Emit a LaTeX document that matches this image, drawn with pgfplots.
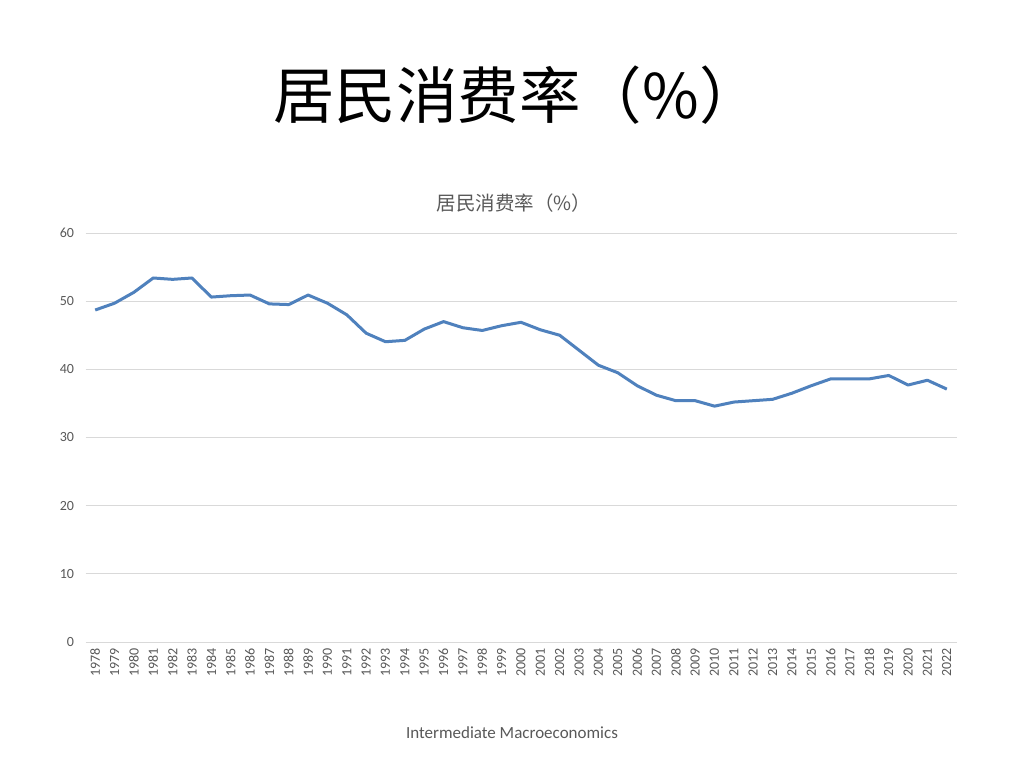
\documentclass[border=0pt]{standalone}
\usepackage{fontspec}
\setmainfont{Carlito}
\newfontfamily\cjk{Noto Sans CJK SC}
\usepackage{pgfplots}
\pgfplotsset{compat=1.18}
\definecolor{linec}{HTML}{4F81BD}
\definecolor{gridc}{HTML}{D9D9D9}
\definecolor{txtc}{HTML}{595959}
\begin{document}
\begin{tikzpicture}[x=1pt,y=1pt]
\path[fill=white] (0,0) rectangle (1024,768);
\node[font=\cjk\fontsize{61.5}{68}\selectfont] at (517,673) {居民消费率（\%）};
\node[font=\cjk\fontsize{19.5}{22}\selectfont, text=txtc] at (514,565) {居民消费率（\%）};
\node[font=\fontsize{17}{20}\selectfont, text=txtc] at (512,35) {Intermediate Macroeconomics};
\begin{axis}[
  at={(85.5pt,126pt)}, anchor=origin,
  scale only axis, width=871pt, height=409pt,
  xmin=1977.5, xmax=2022.5, ymin=0, ymax=60,
  xtick={1978,...,2022}, ytick={0,10,...,60},
  xticklabel style={rotate=90, anchor=east, font=\fontsize{14}{16}\selectfont, text=txtc, /pgf/number format/1000 sep={}},
  yticklabel style={font=\fontsize{14}{16}\selectfont, text=txtc},
  /pgf/number format/assume math mode=true,
  /pgf/number format/1000 sep={},
  major tick length=0pt,
  axis line style={draw=none},
  ymajorgrids, grid style={gridc, line width=0.9pt},
  xticklabel shift=3pt, yticklabel shift=8pt,
  clip=false,
]
\addplot[linec, line width=3pt, line join=round] coordinates {
(1978,48.7)(1979,49.7)(1980,51.3)(1981,53.4)(1982,53.2)(1983,53.4)
(1984,50.6)(1985,50.8)(1986,50.9)(1987,49.6)(1988,49.5)(1989,50.9)
(1990,49.7)(1991,48.0)(1992,45.3)(1993,44.05)(1994,44.25)(1995,45.9)
(1996,47.0)(1997,46.1)(1998,45.7)(1999,46.4)(2000,46.9)(2001,45.8)
(2002,45.0)(2003,42.8)(2004,40.6)(2005,39.5)(2006,37.6)(2007,36.2)
(2008,35.4)(2009,35.4)(2010,34.6)(2011,35.2)(2012,35.4)(2013,35.6)
(2014,36.5)(2015,37.6)(2016,38.6)(2017,38.6)(2018,38.6)(2019,39.1)
(2020,37.7)(2021,38.4)(2022,37.1)
};
\end{axis}
\end{tikzpicture}
\end{document}
